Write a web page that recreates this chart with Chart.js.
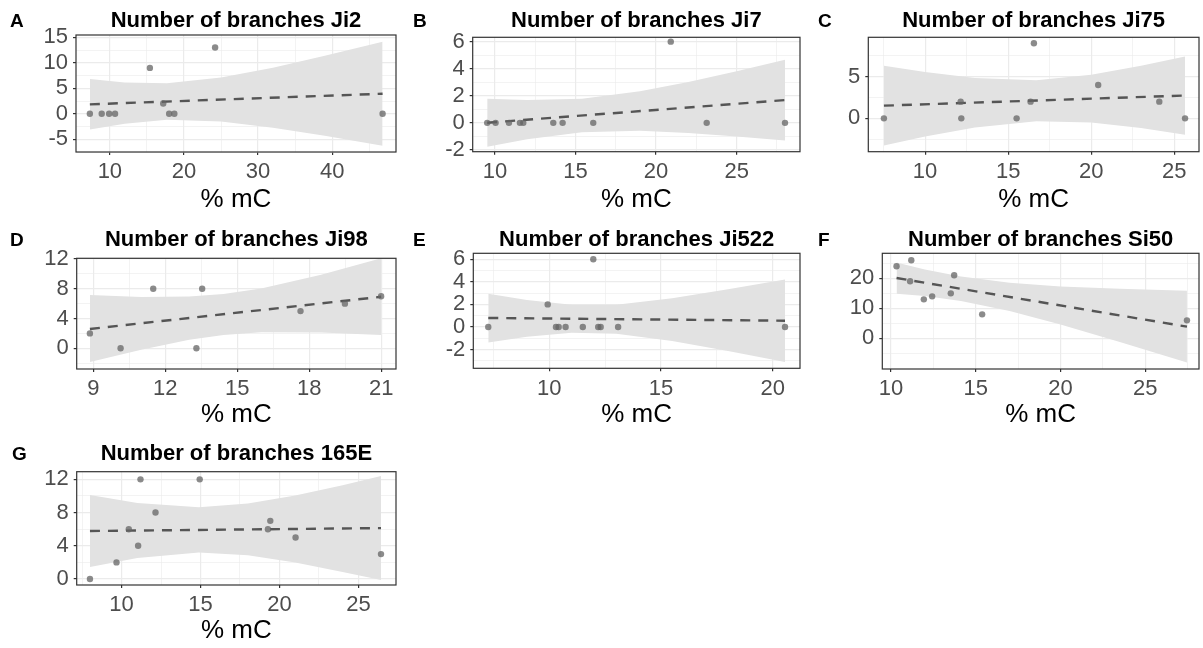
<!DOCTYPE html>
<html>
<head>
<meta charset="utf-8">
<script src="https://cdn.jsdelivr.net/npm/chart.js@4.4.1/dist/chart.umd.min.js"></script>
<style>
  html, body { margin: 0; padding: 0; background: #fff; overflow: hidden; }
  #wrap { position: relative; width: 1203px; height: 648px; }
  #wrap canvas { position: absolute; }
</style>
</head>
<body>
<div id="wrap"></div>
<script>
// ---- data ----
// A: Ji2
const xJi2 = [7.3, 8.9, 9.9, 10.7, 15.4, 17.2, 18.0, 18.7, 24.2, 46.8];
const yJi2 = [0, 0, 0, 0, 9, 2, 0, 0, 13, 0];
const bandXJi2 = [7.3, 12, 17.7, 25, 32, 39, 46.8];
const bandHiJi2 = [6.80, 6.14, 5.98, 7.09, 9.05, 11.37, 14.12];
const bandLoJi2 = [-3.10, -1.94, -1.18, -1.52, -2.75, -4.33, -6.26];
const fitXJi2 = [7.3, 46.8];
const fitYJi2 = [1.85, 3.93];
const ticksXJi2 = [10, 20, 30, 40];
const ticksYJi2 = [-5, 0, 5, 10, 15];

// B: Ji7
const xJi7 = [9.52, 10.04, 10.87, 11.55, 11.76, 13.62, 14.2, 16.1, 20.91, 23.14, 28.0];
const yJi7 = [0, 0, 0, 0, 0, 0, 0, 0, 6, 0, 0];
const bandXJi7 = [9.52, 12, 15.4, 19, 22, 25, 28];
const bandHiJi7 = [1.79, 1.68, 1.78, 2.33, 3.02, 3.81, 4.66];
const bandLoJi7 = [-1.76, -1.21, -0.70, -0.59, -0.74, -1.00, -1.30];
const fitXJi7 = [9.52, 28];
const fitYJi7 = [0.01, 1.68];
const ticksXJi7 = [10, 15, 20, 25];
const ticksYJi7 = [-2, 0, 2, 4, 6];

// C: Ji75
const xJi75 = [7.52, 12.14, 12.18, 15.51, 16.35, 16.55, 20.42, 24.1, 25.65];
const yJi75 = [0, 2, 0, 0, 2, 9, 4, 2, 0];
const bandXJi75 = [7.52, 10, 13, 16.7, 20, 23, 25.65];
const bandHiJi75 = [6.30, 5.55, 4.85, 4.58, 5.22, 6.30, 7.42];
const bandLoJi75 = [-3.25, -2.19, -1.09, -0.34, -0.50, -1.15, -1.96];
const fitXJi75 = [7.52, 25.65];
const fitYJi75 = [1.52, 2.74];
const ticksXJi75 = [10, 15, 20, 25];
const ticksYJi75 = [0, 5];

// D: Ji98
const xJi98 = [8.86, 10.14, 11.5, 13.3, 13.54, 17.64, 19.49, 21.0];
const yJi98 = [2, 0, 8, 0, 8, 5, 6, 7];
const bandXJi98 = [8.86, 11, 13, 14.43, 16, 18.5, 21];
const bandHiJi98 = [7.15, 6.90, 6.95, 7.30, 8.05, 9.87, 12.08];
const bandLoJi98 = [-1.85, -0.20, 1.15, 1.80, 2.15, 2.12, 1.80];
const fitXJi98 = [8.86, 21];
const fitYJi98 = [2.60, 6.92];
const ticksXJi98 = [9, 12, 15, 18, 21];
const ticksYJi98 = [0, 4, 8, 12];

// E: Ji522
const xJi522 = [7.27, 9.93, 10.30, 10.42, 10.73, 11.5, 11.97, 12.19, 12.3, 13.08, 20.55];
const yJi522 = [0, 2, 0, 0, 0, 0, 6, 0, 0, 0, 0];
const bandXJi522 = [7.27, 9, 11, 13, 15.5, 18, 20.55];
const bandHiJi522 = [2.95, 2.40, 1.97, 1.98, 2.54, 3.33, 4.21];
const bandLoJi522 = [-1.36, -0.86, -0.51, -0.59, -1.24, -2.11, -3.09];
const fitXJi522 = [7.27, 20.55];
const fitYJi522 = [0.80, 0.56];
const ticksXJi522 = [10, 15, 20];
const ticksYJi522 = [-2, 0, 2, 4, 6];

// F: Si50
const xSi50 = [10.33, 11.13, 11.2, 11.94, 12.43, 13.53, 13.73, 15.38, 27.46];
const ySi50 = [24, 19, 26, 13, 14, 15, 21, 8, 6];
const bandXSi50 = [10.33, 12, 14.13, 17, 20, 23.5, 27.46];
const bandHiSi50 = [25.3, 22.96, 20.59, 18.51, 17.28, 16.5, 15.9];
const bandLoSi50 = [14.9, 14.09, 12.44, 9.08, 4.62, -1.2, -8.0];
const fitXSi50 = [10.33, 27.46];
const fitYSi50 = [20.1, 3.9];
const ticksXSi50 = [10, 15, 20, 25];
const ticksYSi50 = [0, 10, 20];

// G: 165E
const x165E = [8.0, 9.68, 10.46, 11.05, 11.2, 12.15, 14.95, 19.27, 19.42, 21.02, 26.43];
const y165E = [0, 2, 6, 4, 12, 8, 12, 6, 7, 5, 3];
const bandX165E = [8, 11, 14.9, 18, 21, 24, 26.43];
const bandHi165E = [10.10, 9.15, 8.63, 9.08, 10.06, 11.30, 12.39];
const bandLo165E = [1.46, 2.53, 3.19, 2.85, 1.98, 0.86, -0.13];
const fitX165E = [8, 26.43];
const fitY165E = [5.78, 6.13];
const ticksX165E = [10, 15, 20, 25];
const ticksY165E = [0, 4, 8, 12];

// ---- layout of the 7 panels (page pixels) ----
const panels = [
  { tag: 'A', title: 'Number of branches Ji2', x: xJi2, y: yJi2, bx: bandXJi2, bhi: bandHiJi2, blo: bandLoJi2, fx: fitXJi2, fy: fitYJi2,
    xt: ticksXJi2, yt: ticksYJi2, xr: [5.43, 48.61], yr: [-7.5, 15.45],
    box: [0, 0, 400, 215], plot: [76, 35, 397, 152], tagX: 10, titleY: 26.7, xlabY: 206.5 },
  { tag: 'B', title: 'Number of branches Ji7', x: xJi7, y: yJi7, bx: bandXJi7, bhi: bandHiJi7, blo: bandLoJi7, fx: fitXJi7, fy: fitYJi7,
    xt: ticksXJi7, yt: ticksYJi7, xr: [8.62, 28.93], yr: [-2.13, 6.32],
    box: [400, 0, 405, 215], plot: [472.7, 37.3, 800, 151.7], tagX: 413, titleY: 26.7, xlabY: 206.5 },
  { tag: 'C', title: 'Number of branches Ji75', x: xJi75, y: yJi75, bx: bandXJi75, bhi: bandHiJi75, blo: bandLoJi75, fx: fitXJi75, fy: fitYJi75,
    xt: ticksXJi75, yt: ticksYJi75, xr: [6.58, 26.49], yr: [-4.0, 9.72],
    box: [805, 0, 398, 215], plot: [868.3, 37.3, 1201.7, 151.7], tagX: 818, titleY: 26.7, xlabY: 206.5 },
  { tag: 'D', title: 'Number of branches Ji98', x: xJi98, y: yJi98, bx: bandXJi98, bhi: bandHiJi98, blo: bandLoJi98, fx: fitXJi98, fy: fitYJi98,
    xt: ticksXJi98, yt: ticksYJi98, xr: [8.31, 21.62], yr: [-2.78, 12.09],
    box: [0, 215, 400, 215], plot: [76.7, 258.3, 396.7, 369], tagX: 10, titleY: 245.5, xlabY: 421.5 },
  { tag: 'E', title: 'Number of branches Ji522', x: xJi522, y: yJi522, bx: bandXJi522, bhi: bandHiJi522, blo: bandLoJi522, fx: fitXJi522, fy: fitYJi522,
    xt: ticksXJi522, yt: ticksYJi522, xr: [6.6, 21.22], yr: [-3.65, 6.52],
    box: [400, 215, 405, 215], plot: [473.3, 253.3, 800, 368.3], tagX: 413, titleY: 245.5, xlabY: 421.5 },
  { tag: 'F', title: 'Number of branches Si50', x: xSi50, y: ySi50, bx: bandXSi50, bhi: bandHiSi50, blo: bandLoSi50, fx: fitXSi50, fy: fitYSi50,
    xt: ticksXSi50, yt: ticksYSi50, xr: [9.49, 28.17], yr: [-10.2, 28.33],
    box: [805, 215, 398, 215], plot: [882.3, 253.3, 1201.7, 369], tagX: 818, titleY: 245.5, xlabY: 421.5 },
  { tag: 'G', title: 'Number of branches 165E', x: x165E, y: y165E, bx: bandX165E, bhi: bandHi165E, blo: bandLo165E, fx: fitX165E, fy: fitY165E,
    xt: ticksX165E, yt: ticksY165E, xr: [7.16, 27.38], yr: [-0.72, 12.92],
    box: [0, 430, 400, 218], plot: [76.7, 471.7, 396.7, 585], tagX: 12, titleY: 460, xlabY: 638 }
];

const FONT = "'Liberation Sans', Arial, sans-serif";
const GRID = '#EBEBEB';
const DARK = '#333333';

function pairs(xs, ys) { return xs.map((v, i) => ({ x: v, y: ys[i] })); }
function isMajor(v, majors) { return majors.some(m => Math.abs(m - v) < 1e-6); }
// major breaks plus the minor ones half way between
function withMinor(majors, lo, hi) {
  const step = majors[1] - majors[0];
  const out = [];
  for (let v = majors[0] - step / 2; v <= majors[majors.length - 1] + step / 2 + 1e-9; v += step / 2) {
    if (v >= lo - 1e-9 && v <= hi + 1e-9) out.push(+v.toFixed(4));
  }
  return out;
}

function axis(majors, range, fitFn) {
  const all = withMinor(majors, range[0], range[1]);
  return {
    type: 'linear',
    min: range[0],
    max: range[1],
    afterBuildTicks: s => { s.ticks = all.map(v => ({ value: v })); },
    afterFit: fitFn,
    ticks: {
      autoSkip: false,
      maxRotation: 0,
      padding: 5,
      color: '#4D4D4D',
      font: { family: FONT, size: 22 },
      callback: v => isMajor(v, majors) ? String(v) : ''
    },
    grid: {
      color: GRID,
      lineWidth: c => (c.tick && isMajor(c.tick.value, majors)) ? 1.2 : 0.6,
      drawTicks: true,
      tickLength: 3,
      tickWidth: 1.2,
      tickColor: c => (c.tick && isMajor(c.tick.value, majors)) ? DARK : 'rgba(0,0,0,0)'
    },
    border: { display: false }
  };
}

const wrap = document.getElementById('wrap');

panels.forEach(p => {
  const [bx, by, bw, bh] = p.box;
  const [pl, pt, pr, pb] = p.plot;
  const cv = document.createElement('canvas');
  cv.width = bw; cv.height = bh;
  cv.style.left = bx + 'px'; cv.style.top = by + 'px';
  cv.style.width = bw + 'px'; cv.style.height = bh + 'px';
  wrap.appendChild(cv);

  const decor = {
    id: 'decor' + p.tag,
    afterDraw(chart) {
      const ctx = chart.ctx;
      const a = chart.chartArea;
      ctx.save();
      ctx.strokeStyle = DARK;
      ctx.lineWidth = 1.2;
      ctx.strokeRect(a.left, a.top, a.right - a.left, a.bottom - a.top);
      ctx.fillStyle = '#000';
      ctx.textBaseline = 'alphabetic';
      ctx.textAlign = 'center';
      ctx.font = 'bold 22px ' + FONT;
      ctx.fillText(p.title, (a.left + a.right) / 2, p.titleY - by);
      ctx.font = '26px ' + FONT;
      ctx.fillText('% mC', (a.left + a.right) / 2, p.xlabY - by);
      ctx.textAlign = 'left';
      ctx.font = 'bold 19px ' + FONT;
      ctx.fillText(p.tag, p.tagX - bx, p.titleY - by);
      ctx.restore();
    }
  };

  const yAxis = axis(p.yt, p.yr, s => { s.width = pl - bx; s.paddingTop = 0; s.paddingBottom = 0; });
  const xAxis = axis(p.xt, p.xr, s => { s.height = by + bh - pb; s.paddingLeft = 0; s.paddingRight = 0; });
  xAxis.ticks.padding = 4;

  new Chart(cv, {
    type: 'scatter',
    data: {
      datasets: [
        { type: 'scatter', data: pairs(p.x, p.y), backgroundColor: 'rgba(100,100,100,0.75)',
          borderWidth: 0, pointRadius: 3.2, order: 0 },
        { type: 'line', data: pairs(p.fx, p.fy), borderColor: '#555555', borderWidth: 2.4,
          borderDash: [10, 8], pointRadius: 0, fill: false, tension: 0, order: 1 },
        { type: 'line', data: pairs(p.bx, p.bhi), borderColor: 'rgba(0,0,0,0)', borderWidth: 0,
          pointRadius: 0, fill: '+1', backgroundColor: '#E2E2E2', tension: 0, order: 2 },
        { type: 'line', data: pairs(p.bx, p.blo), borderColor: 'rgba(0,0,0,0)', borderWidth: 0,
          pointRadius: 0, fill: false, tension: 0, order: 3 }
      ]
    },
    options: {
      responsive: false,
      animation: false,
      devicePixelRatio: 1,
      events: [],
      layout: { padding: { left: 0, top: pt - by, right: bx + bw - pr, bottom: 0 } },
      scales: { x: xAxis, y: yAxis },
      plugins: { legend: { display: false }, tooltip: { enabled: false }, title: { display: false } }
    },
    plugins: [decor]
  });
});
</script>
</body>
</html>
